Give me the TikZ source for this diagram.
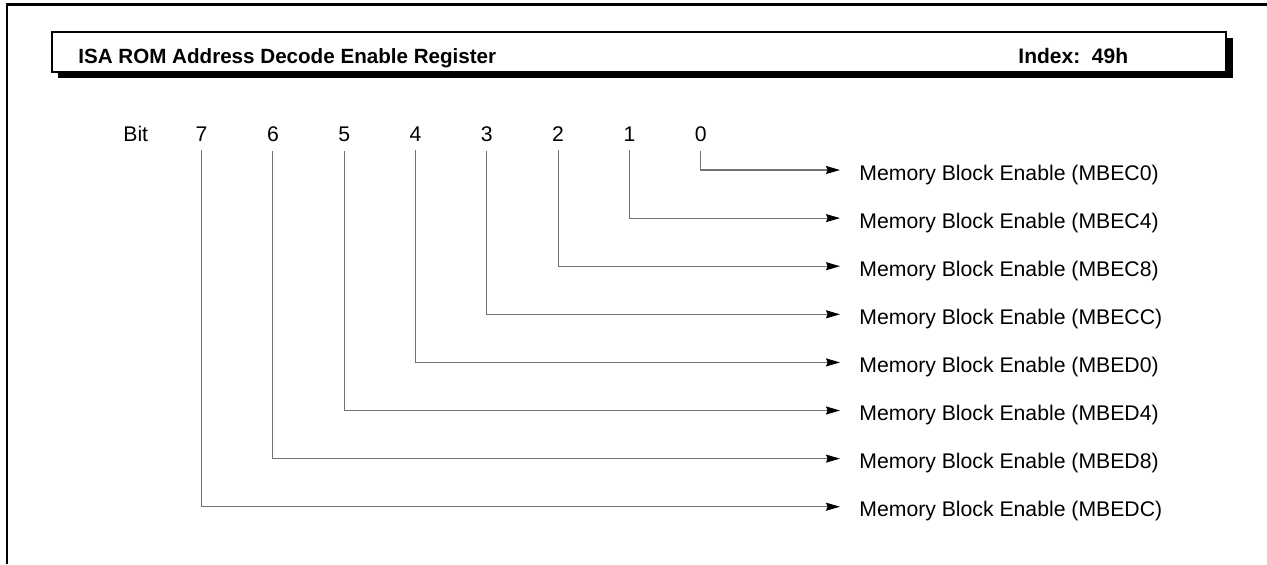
\documentclass[tikz,border=0pt]{standalone}
\usepackage{fontspec}
\setmainfont{Liberation Sans}
\usetikzlibrary{arrows.meta,positioning}

\tikzset{
    bitlabel/.style = {inner sep=0, anchor=base, font=\fontsize{10.6}{12}\selectfont},
    fieldlabel/.style = {inner sep=0, anchor=west, font=\fontsize{10.6}{12}\selectfont},
    conn/.style = {draw=black!55, line width=0.55pt, shorten <=4.5pt,
                   -{Stealth[length=7pt,width=4pt,inset=0.8pt,black]}},
}

\begin{document}
\begin{tikzpicture}[x=0.5pt, y=-0.5pt]
                \useasboundingbox (0, 0) rectangle (1267, 564);
                % outer frame
                \draw [black, line width=1.2pt] (7, 564) -- (7, 4.5) -- (1267, 4.5);
                % title bar with shadow
                \fill [black] (58, 38) rectangle (1233, 78);
                \draw [black, line width=1pt, fill=white] (52, 32) rectangle (1226, 72);
                \node (title) [inner sep=0, anchor=base west, font=\bfseries\fontsize{10.3}{12}\selectfont]
                    at (78, 63) {ISA ROM Address Decode Enable Register};
                \node (index) [inner sep=0, anchor=base west, font=\bfseries\fontsize{10.5}{12}\selectfont]
                    at (1018, 63) {Index:\ \ 49h};

                \node (bit) [bitlabel, anchor=base west] at (123, 141) {Bit};
                \foreach \i/\name in {0/MBEC0, 1/MBEC4, 2/MBEC8, 3/MBECC,
                                      4/MBED0, 5/MBED4, 6/MBED8, 7/MBEDC}
                {
                    \node (b\i) [bitlabel] at ({700.7 - 71.3*\i}, 141) {\i};
                    \coordinate (t\i) at (840, {170 + 48.1*\i});
                    \node (f\i) [fieldlabel, xshift=9.5pt, yshift=-2.4pt] at (t\i)
                        {Memory Block Enable (\name)};
                    \draw [conn] (b\i.south) |- (t\i);
                }
            \end{tikzpicture}
\end{document}
